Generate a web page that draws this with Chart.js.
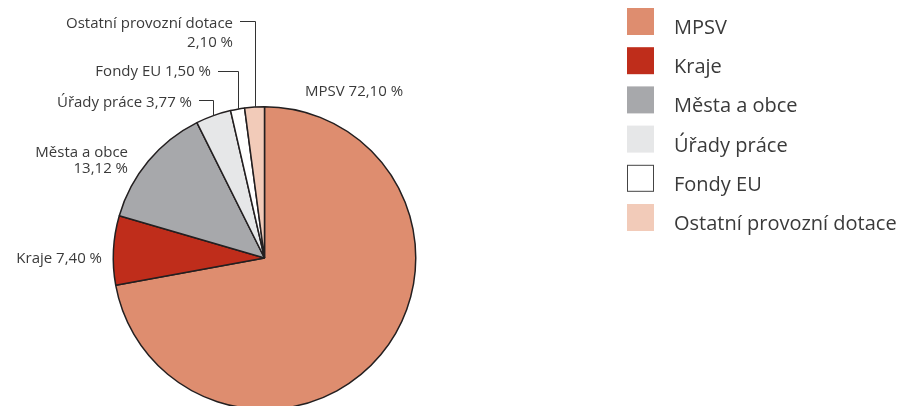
<!DOCTYPE html>
<html>
<head>
<meta charset="utf-8">
<script src="https://cdn.jsdelivr.net/npm/chart.js@4"></script>
<style>
    html, body { margin: 0; padding: 0; background: #fff; }
    #wrap { width: 901px; height: 406px; overflow: hidden; position: relative; }
</style>
</head>
<body>
<div id="wrap"><canvas id="pieChart" width="901" height="420"></canvas></div>
<script>
// Data
const categories = ['MPSV', 'Kraje', 'Města a obce', 'Úřady práce', 'Fondy EU', 'Ostatní provozní dotace'];
const shares = [72.10, 7.40, 13.12, 3.77, 1.50, 2.10];
const shareLabels = ['72,10 %', '7,40 %', '13,12 %', '3,77 %', '1,50 %', '2,10 %'];
const colors = ['#de8d6f', '#bf2d1b', '#a7a8ab', '#e6e7e8', '#ffffff', '#f2cbb9'];

const textColor = '#3a3a3a';
const labelFont = '15px "Open Sans", sans-serif';
const legendFont = '20px "Open Sans", sans-serif';

// Where each slice label sits (text anchor + optional leader line)
const labelLayout = [
    { lines: ['MPSV ' + shareLabels[0]], x: 305, y: 96, align: 'left' },
    { lines: ['Kraje ' + shareLabels[1]], x: 102, y: 263, align: 'right' },
    { lines: [categories[2], shareLabels[2]], x: 128, y: 157, align: 'right', lh: 16 },
    { lines: ['Úřady práce ' + shareLabels[3]], x: 192, y: 107, align: 'right', leaderY: 100 },
    { lines: ['Fondy EU ' + shareLabels[4]], x: 211, y: 76, align: 'right', leaderY: 71 },
    { lines: [categories[5], shareLabels[5]], x: 233, y: 28, align: 'right', lh: 19, leaderY: 21 }
];

// Labels + legend drawn on top of the pie
const annotations = {
    id: 'annotations',
    afterDraw(chart) {
        const ctx = chart.ctx;
        const arcs = chart.getDatasetMeta(0).data;
        ctx.save();
        ctx.fillStyle = textColor;
        ctx.strokeStyle = '#333';
        ctx.lineWidth = 1;
        ctx.textBaseline = 'alphabetic';
        ctx.font = labelFont;

        labelLayout.forEach((lab, i) => {
            ctx.textAlign = lab.align;
            lab.lines.forEach((t, k) => ctx.fillText(t, lab.x, lab.y + k * (lab.lh || 0)));
            if (lab.leaderY !== undefined) {
                const arc = arcs[i];
                const mid = (arc.startAngle + arc.endAngle) / 2;
                const ex = arc.x + Math.cos(mid) * arc.outerRadius;
                const ey = arc.y + Math.sin(mid) * arc.outerRadius;
                const vx = Math.round(ex) + 0.5;
                ctx.beginPath();
                ctx.moveTo(lab.x + 7, lab.leaderY + 0.5);
                ctx.lineTo(vx, lab.leaderY + 0.5);
                ctx.lineTo(vx, ey);
                ctx.stroke();
            }
        });

        // Legend
        ctx.font = legendFont;
        ctx.textAlign = 'left';
        categories.forEach((name, i) => {
            const y = 8 + i * 39.2;
            ctx.fillStyle = colors[i];
            ctx.fillRect(627, y, 27, 27);
            if (colors[i] === '#ffffff') {
                ctx.strokeStyle = '#444';
                ctx.strokeRect(627.5, y + 0.5, 26, 26);
            }
            ctx.fillStyle = textColor;
            ctx.fillText(name, 674, y + 26);
        });
        ctx.restore();
    }
};

new Chart(document.getElementById('pieChart'), {
    type: 'pie',
    data: {
        labels: categories,
        datasets: [{
            data: shares,
            backgroundColor: colors,
            borderColor: '#231f20',
            borderWidth: 1.5
        }]
    },
    options: {
        responsive: false,
        animation: false,
        layout: { padding: { left: 112, right: 484, top: 106, bottom: 10 } },
        plugins: {
            legend: { display: false },
            tooltip: { enabled: false }
        }
    },
    plugins: [annotations]
});
</script>
</body>
</html>
